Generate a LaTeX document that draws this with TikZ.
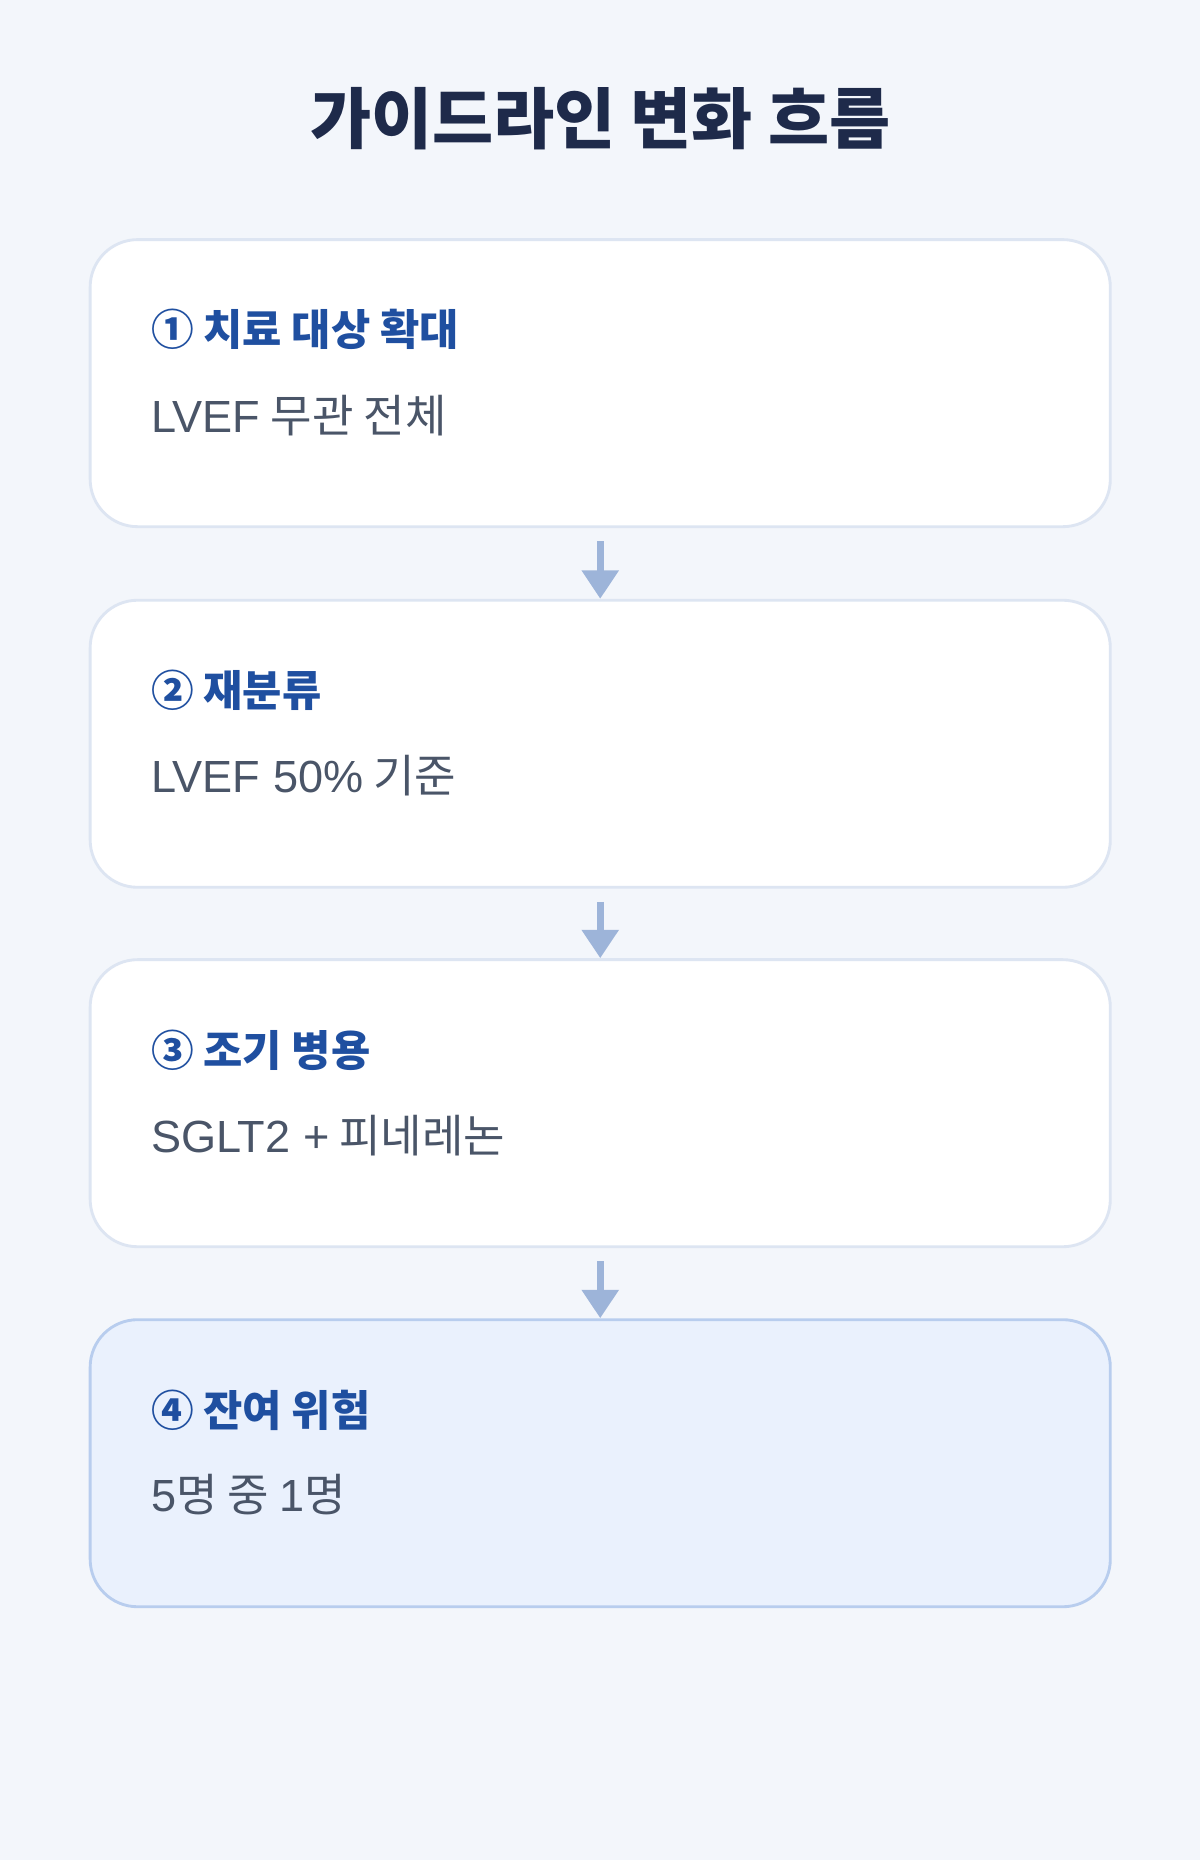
\documentclass[tikz,border=0pt]{standalone}
\usepackage{fontspec}
\setmainfont{Noto Sans CJK KR}
\newfontfamily\latinbody{Liberation Sans}
\usetikzlibrary{arrows.meta,positioning}
\definecolor{bgcol}{HTML}{F3F6FB}
\definecolor{titlecol}{HTML}{1E2A4A}
\definecolor{headcol}{HTML}{1F4FA0}
\definecolor{bodycol}{HTML}{4A5568}
\definecolor{edgecol}{HTML}{DDE5F2}
\definecolor{lastfill}{HTML}{EAF1FD}
\definecolor{lastedge}{HTML}{B8CDEE}
\definecolor{arrowcol}{HTML}{9DB4D9}
\begin{document}
\begin{tikzpicture}[x=0.5pt,y=-0.5pt,
    stagebox/.style={draw=edgecol,line width=1.2pt,fill=white,rounded corners=20pt,
      minimum width=430pt,minimum height=121pt,inner sep=0pt},
    laststage/.style={stagebox,draw=lastedge,fill=lastfill},
    heading/.style={anchor=west,inner sep=0pt,text=headcol,font=\fontsize{18}{22}\selectfont\bfseries},
    body/.style={anchor=west,inner sep=0pt,text=bodycol,font=\fontsize{19}{23}\selectfont},
    flow/.style={draw=arrowcol,line width=3pt,-{Triangle[width=15pt,length=12pt]},
      shorten <=5.5pt}]
        % background
        \fill [bgcol] (0,0) rectangle (1012,1568);
        \useasboundingbox (0,0) rectangle (1012,1568);

        % title
        \node (title) at (506,100) [text=titlecol,font=\fontsize{28}{34}\selectfont\bfseries] {가이드라인 변화 흐름};

        % stages
        \node (s1) at (506,323) [stagebox] {};
        \node (s2) at (506,627) [stagebox] {};
        \node (s3) at (506,930) [stagebox] {};
        \node (s4) at (506,1233.5) [laststage] {};

        \node (h1) at (127,278) [heading] {① 치료 대상 확대};
        \node (b1) at (127,350) [body] {{\latinbody LVEF} 무관 전체};
        \node (h2) at (127,582) [heading] {② 재분류};
        \node (b2) at (127,654) [body] {{\latinbody LVEF 50\%} 기준};
        \node (h3) at (127,885) [heading] {③ 조기 병용};
        \node (b3) at (127,957) [body] {{\latinbody SGLT2 +} 피네레논};
        \node (h4) at (127,1189) [heading] {④ 잔여 위험};
        \node (b4) at (127,1260) [body] {{\latinbody 5}명 중 {\latinbody 1}명};

        % arrows
        \draw [flow] (s1) -- (s2);
        \draw [flow] (s2) -- (s3);
        \draw [flow] (s3) -- (s4);
\end{tikzpicture}
\end{document}
